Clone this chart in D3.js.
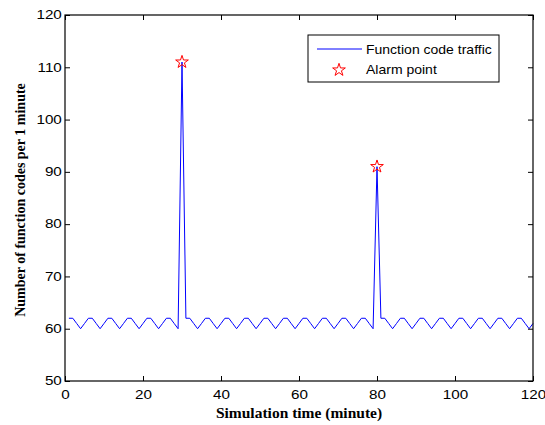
<!DOCTYPE html>
<html>
<head>
<meta charset="utf-8">
<script src="https://cdn.jsdelivr.net/npm/d3@7"></script>
<style>
  body{margin:0;background:#fff;}
  .tick text{font-family:"Liberation Sans",Arial,sans-serif;font-size:12px;fill:#000;}
</style>
</head>
<body>
<div class="canvas"></div>
<script>
// traffic per minute, minutes 1..120
const traffic=[
  62,62,61,60,61, 62,62,61,60,61, 62,62,61,60,61, 62,62,61,60,61, 62,62,61,60,61,
  62,62,61,60,111,
  62,62,61,60,61, 62,62,61,60,61, 62,62,61,60,61, 62,62,61,60,61, 62,62,61,60,61,
  62,62,61,60,61, 62,62,61,60,61, 62,62,61,60,61, 62,62,61,60,61,
  62,62,61,60,91,
  62,62,61,60,61, 62,62,61,60,61, 62,62,61,60,61, 62,62,61,60,61, 62,62,61,60,61,
  62,62,61,60,61, 62,62,61,60,61, 62,62,61,60,61
];
const firstMinute=1;
const alarmTimes=[30,80];
const alarmValues=[111,91];
const xTicks=[0,20,40,60,80,100,120];
const yTicks=[50,60,70,80,90,100,110,120];

const svg=d3.select('.canvas')
  .append('svg')
    .attr('width',545)
    .attr('height',425);

const margin={top:15,right:12,bottom:44,left:65};
const graphWidth=545-margin.left-margin.right;
const graphHeight=425-margin.top-margin.bottom;
const stretch=1.27; // the picture's sans text is wide

const graph=svg.append('g')
  .attr('transform',`translate(${margin.left},${margin.top})`);

const x=d3.scaleLinear().domain([0,120]).range([0,graphWidth]);
const y=d3.scaleLinear().domain([50,120]).range([graphHeight,0]);

const data=traffic.map((v,i)=>({t:firstMinute+i,v:v}));

// line
const line=d3.line().x(d=>x(d.t)).y(d=>y(d.v));
graph.append('path')
  .datum(data)
  .attr('fill','none')
  .attr('stroke','#0000ff')
  .attr('stroke-width',1)
  .attr('d',line);

// alarm stars
const star=d3.symbol().type(d3.symbolStar).size(50);
graph.selectAll('.alarm')
  .data(alarmTimes.map((t,i)=>({t:t,v:alarmValues[i]})))
  .enter().append('path')
  .attr('class','alarm')
  .attr('d',star)
  .attr('transform',d=>`translate(${x(d.t)},${y(d.v)})`)
  .attr('fill','none')
  .attr('stroke','#ff0000')
  .attr('stroke-width',1);

// axes, ticks inward like matlab, box on all sides
const tickLen=5;
const xAxis=d3.axisBottom(x).tickValues(xTicks).tickSizeInner(-tickLen).tickSizeOuter(0).tickPadding(9);
const yAxis=d3.axisLeft(y).tickValues(yTicks).tickSizeInner(-tickLen).tickSizeOuter(0).tickPadding(2.5);
const xTop=d3.axisTop(x).tickValues(xTicks).tickSizeInner(-tickLen).tickSizeOuter(0).tickFormat('');
const yRight=d3.axisRight(y).tickValues(yTicks).tickSizeInner(-tickLen).tickSizeOuter(0).tickFormat('');

const xg=graph.append('g').attr('transform',`translate(0,${graphHeight})`).call(xAxis);
const yg=graph.append('g').call(yAxis);
graph.append('g').call(xTop);
graph.append('g').attr('transform',`translate(${graphWidth},0)`).call(yRight);
graph.selectAll('.domain').remove();
graph.selectAll('.tick line').attr('stroke','#000');
xg.selectAll('text').attr('transform',`scale(${stretch},1)`);
yg.selectAll('text').attr('transform',`scale(${stretch},1)`);

graph.append('rect')
  .attr('width',graphWidth)
  .attr('height',graphHeight)
  .attr('fill','none')
  .attr('stroke','#000')
  .attr('stroke-width',1.2);

// axis titles
svg.append('text')
  .attr('x',margin.left+graphWidth/2)
  .attr('y',418)
  .attr('text-anchor','middle')
  .style('font-family','"Liberation Serif","Times New Roman",serif')
  .style('font-weight','bold')
  .style('font-size','15.5px')
  .text('Simulation time (minute)');

svg.append('text')
  .attr('transform',`translate(25,${margin.top+graphHeight/2+2}) rotate(-90)`)
  .attr('text-anchor','middle')
  .style('font-family','"Liberation Serif","Times New Roman",serif')
  .style('font-weight','bold')
  .style('font-size','14px')
  .text('Number of function codes per 1 minute');

// legend
const legend=svg.append('g').attr('transform','translate(308,35)');
legend.append('rect')
  .attr('width',191).attr('height',47)
  .attr('fill','#fff').attr('stroke','#000').attr('stroke-width',1);
legend.append('line')
  .attr('x1',9).attr('x2',54).attr('y1',14).attr('y2',14)
  .attr('stroke','#0000ff').attr('stroke-width',1);
legend.append('path')
  .attr('d',star)
  .attr('transform','translate(31,35)')
  .attr('fill','none').attr('stroke','#ff0000');
legend.selectAll('.ltext')
  .data(['Function code traffic','Alarm point'])
  .enter().append('text')
  .attr('transform',(d,i)=>`translate(58,${19+i*20}) scale(1.12,1)`)
  .style('font-family','"Liberation Sans",Arial,sans-serif')
  .style('font-size','12.5px')
  .text(d=>d);
</script>
</body>
</html>
